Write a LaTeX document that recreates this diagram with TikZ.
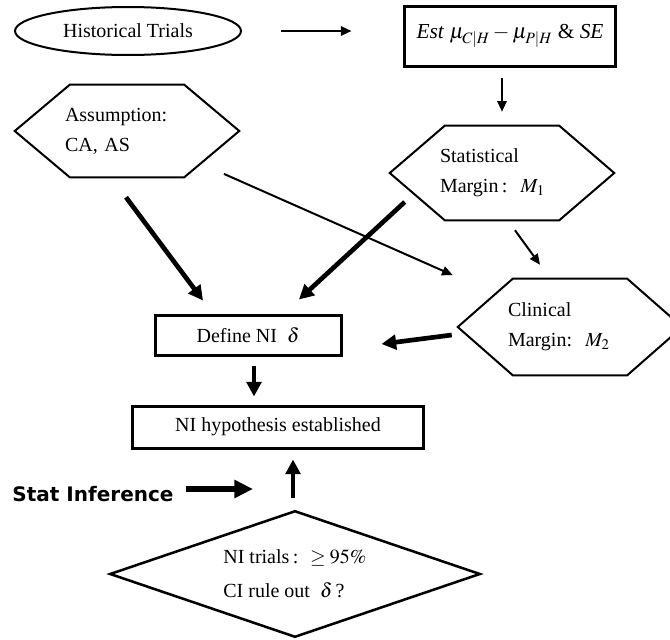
\documentclass[tikz,border=0pt]{standalone}
\usepackage{mathptmx}
\usepackage{fontspec}
\setmainfont{Liberation Serif}
\newfontfamily\headfont{DejaVu Sans}
\usetikzlibrary{arrows.meta,calc,shapes.geometric}

\begin{document}
\begin{tikzpicture}[x=0.75pt, y=-0.75pt,
    every node/.style={font=\fontsize{15}{22.5}\selectfont},
    boxnode/.style={draw, line width=2.25pt, inner sep=0pt},
    hexnode/.style={inner sep=0pt, text width=93pt, align=left, minimum height=#1},
    hexline/.style={line width=1.5pt, line join=miter},
    thinarr/.style={line width=1.5pt, -{Triangle[length=8pt,width=7pt]}},
    thickarr/.style={line width=3.5pt, -{Triangle[length=11pt,width=11pt]}},
    bigarr/.style={line width=4.5pt, -{Triangle[length=14pt,width=13pt]}}
]
    \useasboundingbox (0,0) rectangle (670,639);

    % Top row
    \node[ellipse, draw, line width=1.5pt, minimum width=169.5pt, minimum height=36pt, inner sep=0pt] (hist) at (128,31) {Historical Trials};
    \node[boxnode, minimum width=158.25pt, minimum height=45pt, font=\fontsize{16}{20}\selectfont] (est) at (510,36) {\textit{Est} $\mu_{C|H}-\mu_{P|H}$ \& \textit{SE}};

    % Hexagons
    \node[hexnode=69pt] (assum) at (127,131) {Assumption:\\CA, AS};
    \node[hexnode=70.5pt] (statm) at (502,173) {Statistical\\Margin\,:\ \ $M_1$};
    \node[hexnode=72pt] (clinm) at (570,327) {Clinical\\Margin:\ \ $M_2$};
    \foreach \n in {assum,statm,clinm}
        \draw[hexline] ($(\n.west)+(-50,0)$) -- ($(\n.north west)+(5,0)$) -- ($(\n.north east)+(-5,0)$)
            -- ($(\n.east)+(50,0)$) -- ($(\n.south east)+(-5,0)$) -- ($(\n.south west)+(5,0)$) -- cycle;

    % Middle boxes
    \node[boxnode, minimum width=139.5pt, minimum height=30pt] (define) at (248,335) {Define NI\ \ $\delta$};
    \node[boxnode, minimum width=218.25pt, minimum height=31.5pt] (nihyp) at (278,427) {NI hypothesis established};

    % Decision diamond
    \node[inner sep=0pt, minimum width=276.75pt, minimum height=93.75pt, align=left, font=\fontsize{15}{25.5}\selectfont] (ci) at (295,574) {NI trials\,: \ $\geq 95\%$\\CI rule out\ \ $\delta$\,?};
    \draw[line width=1.9pt] (ci.north) -- (ci.east) -- (ci.south) -- (ci.west) -- cycle;

    \node[font=\headfont\bfseries\fontsize{15}{18}\selectfont, inner sep=0pt] (statinf) at (93,494) {Stat Inference};
    \coordinate (infend) at (253,489);

    % Arrows
    \draw[thinarr, shorten <=29.25pt, shorten >=38.6pt] (hist.east) -- (hist.east -| est.west);
    \draw[thinarr, shorten <=7.5pt, shorten >=10.5pt] (statm.north |- est.south) -- (statm.north);
    \draw[thinarr] ($(statm.south)+(13,10)$) -- ($(clinm.north)+(-30,-14)$);
    \draw[thinarr, shorten <=79.5pt, shorten >=96.2pt] (assum.center) -- (clinm.center);

    \draw[thickarr] ($(assum.south)+(-1,20)$) -- ($(define.north)+(-45,-13)$);
    \draw[thickarr] ($(statm.west)+(-35,29)$) -- ($(define.north)+(51,-14)$);
    \draw[thickarr] ($(clinm.west)+(-56,8)$) -- ($(define.east)+(39,9)$);
    \draw[thickarr] ($(define.south)+(6,9)$) -- ($(define.south |- nihyp.north)+(6,-8)$);
    \draw[thickarr] ($(ci.north)+(-2,-13)$) -- ($(ci.north |- nihyp.south)+(-2,10)$);
    \draw[bigarr] ($(statinf.east)+(12,-5)$) -- (infend);

\end{tikzpicture}
\end{document}
